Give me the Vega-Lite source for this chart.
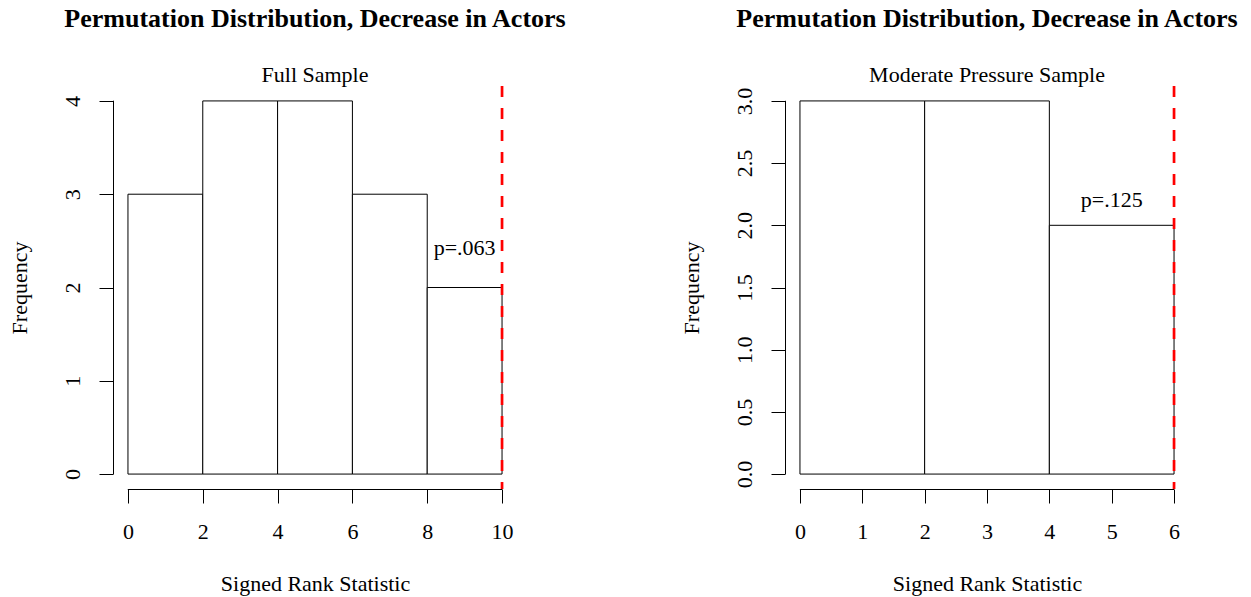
{
  "$schema": "https://vega.github.io/schema/vega-lite/v6.json",
  "padding": {"left": 8, "top": 5, "right": 5, "bottom": 5},
  "spacing": 268,
  "bounds": "flush",
  "config": {
    "font": "Liberation Serif",
    "view": {"stroke": null},
    "axis": {
      "labelFont": "Liberation Serif",
      "titleFont": "Liberation Serif",
      "labelFontSize": 22,
      "titleFontSize": 22,
      "titleFontWeight": "normal",
      "labelColor": "black",
      "titleColor": "black",
      "tickColor": "black",
      "tickSize": 14,
      "tickWidth": 1,
      "grid": false,
      "domain": false,
      "labelFlush": false,
      "labelOverlap": false
    },
    "title": {
      "font": "Liberation Serif",
      "subtitleFont": "Liberation Serif",
      "fontSize": 26,
      "fontWeight": "bold",
      "subtitleFontSize": 22,
      "color": "black",
      "subtitleColor": "black",
      "anchor": "middle",
      "frame": "group",
      "subtitlePadding": 33,
      "offset": -1
    }
  },
  "datasets": {
    "full": [
      {"start": 0, "end": 2, "count": 3},
      {"start": 2, "end": 4, "count": 4},
      {"start": 4, "end": 6, "count": 4},
      {"start": 6, "end": 8, "count": 3},
      {"start": 8, "end": 10, "count": 2}
    ],
    "moderate": [
      {"start": 0, "end": 2, "count": 3},
      {"start": 2, "end": 4, "count": 3},
      {"start": 4, "end": 6, "count": 2}
    ],
    "fullStat": [{"stat": 10, "px": 9, "py": 2.42, "label": "p=.063"}],
    "moderateStat": [{"stat": 6, "px": 5, "py": 2.2, "label": "p=.125"}]
  },
  "hconcat": [
    {
      "width": 404,
      "height": 403,
      "title": {"text": "Permutation Distribution, Decrease in Actors", "subtitle": "Full Sample"},
      "layer": [
        {
          "data": {"name": "full"},
          "mark": {"type": "rect", "fill": "white", "stroke": "black", "strokeWidth": 1},
          "encoding": {
            "x": {"field": "start", "type": "quantitative",
                  "scale": {"domain": [-0.4, 10.4], "nice": false, "zero": false},
                  "axis": {"values": [0, 2, 4, 6, 8, 10], "format": "d", "labelPadding": 35, "labelBaseline": "alphabetic",
                           "title": "Signed Rank Statistic", "titleY": 101, "titleBaseline": "alphabetic"}},
            "x2": {"field": "end"},
            "y": {"field": "count", "type": "quantitative",
                  "scale": {"domain": [-0.16, 4.16], "nice": false, "zero": false},
                  "axis": {"values": [0, 1, 2, 3, 4], "format": "d", "labelAngle": -90, "labelAlign": "center",
                           "labelBaseline": "alphabetic", "labelPadding": 20,
                           "title": "Frequency", "titleX": -94, "titleBaseline": "middle"}},
            "y2": {"datum": 0}
          }
        },
        {
          "data": {"name": "full"},
          "mark": {"type": "rule", "color": "black", "strokeWidth": 1, "xOffset": 0.5},
          "encoding": {
            "x": {"datum": -0.4, "type": "quantitative"},
            "y": {"datum": 0, "type": "quantitative"},
            "y2": {"datum": 4}
          }
        },
        {
          "data": {"name": "full"},
          "mark": {"type": "rule", "color": "black", "strokeWidth": 1, "yOffset": 0.5},
          "encoding": {
            "y": {"datum": -0.16, "type": "quantitative"},
            "x": {"datum": 0, "type": "quantitative"},
            "x2": {"datum": 10}
          }
        },
        {
          "data": {"name": "fullStat"},
          "mark": {"type": "rule", "color": "#FF0000", "strokeWidth": 2.7, "strokeDash": [11, 11]},
          "encoding": {
            "x": {"field": "stat", "type": "quantitative"},
            "y": {"datum": 4.16, "type": "quantitative"},
            "y2": {"datum": -0.16}
          }
        },
        {
          "data": {"name": "fullStat"},
          "mark": {"type": "text", "fontSize": 22, "align": "center", "baseline": "middle", "color": "black"},
          "encoding": {
            "x": {"field": "px", "type": "quantitative"},
            "y": {"field": "py", "type": "quantitative"},
            "text": {"field": "label"}
          }
        }
      ]
    },
    {
      "width": 404,
      "height": 403,
      "title": {"text": "Permutation Distribution, Decrease in Actors", "subtitle": "Moderate Pressure Sample"},
      "layer": [
        {
          "data": {"name": "moderate"},
          "mark": {"type": "rect", "fill": "white", "stroke": "black", "strokeWidth": 1},
          "encoding": {
            "x": {"field": "start", "type": "quantitative",
                  "scale": {"domain": [-0.24, 6.24], "nice": false, "zero": false},
                  "axis": {"values": [0, 1, 2, 3, 4, 5, 6], "format": "d", "labelPadding": 35, "labelBaseline": "alphabetic",
                           "title": "Signed Rank Statistic", "titleY": 101, "titleBaseline": "alphabetic"}},
            "x2": {"field": "end"},
            "y": {"field": "count", "type": "quantitative",
                  "scale": {"domain": [-0.12, 3.12], "nice": false, "zero": false},
                  "axis": {"values": [0, 0.5, 1, 1.5, 2, 2.5, 3], "format": ".1f", "labelAngle": -90, "labelAlign": "center",
                           "labelBaseline": "alphabetic", "labelPadding": 20,
                           "title": "Frequency", "titleX": -94, "titleBaseline": "middle"}},
            "y2": {"datum": 0}
          }
        },
        {
          "data": {"name": "moderate"},
          "mark": {"type": "rule", "color": "black", "strokeWidth": 1, "xOffset": 0.5},
          "encoding": {
            "x": {"datum": -0.24, "type": "quantitative"},
            "y": {"datum": 0, "type": "quantitative"},
            "y2": {"datum": 3}
          }
        },
        {
          "data": {"name": "moderate"},
          "mark": {"type": "rule", "color": "black", "strokeWidth": 1, "yOffset": 0.5},
          "encoding": {
            "y": {"datum": -0.12, "type": "quantitative"},
            "x": {"datum": 0, "type": "quantitative"},
            "x2": {"datum": 6}
          }
        },
        {
          "data": {"name": "moderateStat"},
          "mark": {"type": "rule", "color": "#FF0000", "strokeWidth": 2.7, "strokeDash": [11, 11]},
          "encoding": {
            "x": {"field": "stat", "type": "quantitative"},
            "y": {"datum": 3.12, "type": "quantitative"},
            "y2": {"datum": -0.12}
          }
        },
        {
          "data": {"name": "moderateStat"},
          "mark": {"type": "text", "fontSize": 22, "align": "center", "baseline": "middle", "color": "black"},
          "encoding": {
            "x": {"field": "px", "type": "quantitative"},
            "y": {"field": "py", "type": "quantitative"},
            "text": {"field": "label"}
          }
        }
      ]
    }
  ]
}
